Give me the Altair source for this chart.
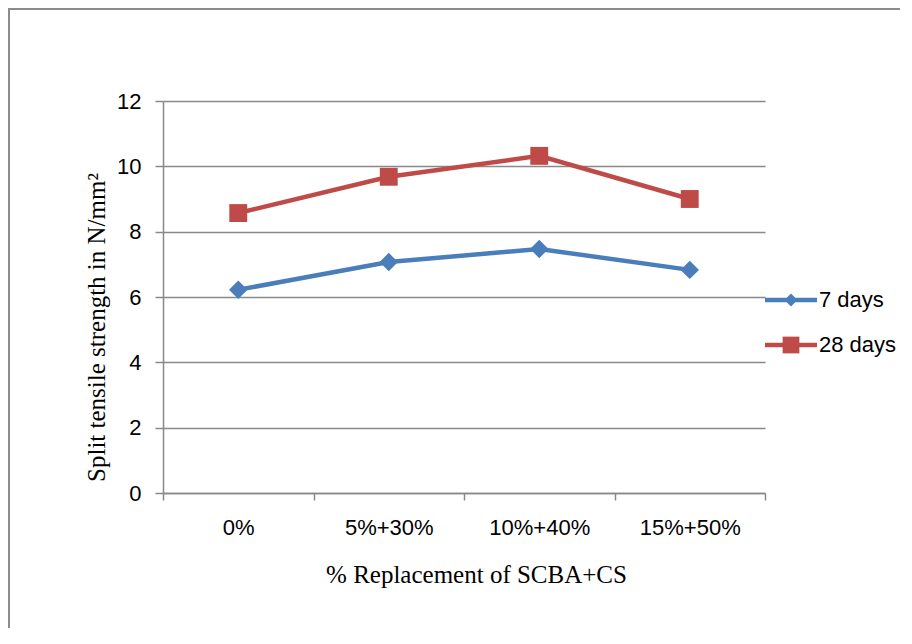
import altair as alt
import pandas as pd

categories = ["0%", "5%+30%", "10%+40%", "15%+50%"]
series = ["7 days", "28 days"]
days7 = [6.22, 7.07, 7.47, 6.83]
days28 = [8.57, 9.68, 10.32, 9.0]
y_ticks = [0, 2, 4, 6, 8, 10, 12]
colors = ["#4A7EBB", "#BE4B48"]
point_shapes = ["diamond", "square"]

rows = []
for s, vals in zip(series, [days7, days28]):
    for c, v in zip(categories, vals):
        rows.append({"cat": c, "series": s, "value": v})
df = pd.DataFrame(rows)
legend_df = pd.DataFrame({"series": series})

W, H = 602, 392
GRAY = "#898989"
SANS = "Liberation Sans"
SERIF = "Liberation Serif"

x_enc = alt.X(
    "cat:N",
    sort=categories,
    scale=alt.Scale(type="band", domain=categories, paddingInner=0, paddingOuter=0),
    axis=alt.Axis(
        title="% Replacement of SCBA+CS",
        tickBand="extent",
        grid=False,
        labelFont=SANS,
        labelFontSize=22,
        labelColor="#000000",
        labelPadding=17,
        labelAngle=0,
        tickSize=7,
        tickColor=GRAY,
        tickWidth=1.5,
        domainColor=GRAY,
        domainWidth=1.5,
        titleFont=SERIF,
        titleFontSize=25,
        titleFontWeight="normal",
        titleColor="#000000",
        titlePadding=24,
        titleX=313,
    ),
)
y_enc = alt.Y(
    "value:Q",
    scale=alt.Scale(domain=[0, 12], nice=False),
    axis=alt.Axis(
        title="Split tensile strength in N/mm²",
        values=y_ticks,
        grid=True,
        gridColor=GRAY,
        gridWidth=1.5,
        labelFont=SANS,
        labelFontSize=22,
        labelColor="#000000",
        labelPadding=14,
        tickSize=8,
        tickColor=GRAY,
        tickWidth=1.5,
        domainColor=GRAY,
        domainWidth=1.5,
        titleFont=SERIF,
        titleFontSize=25,
        titleFontWeight="normal",
        titleColor="#000000",
        titleX=-67,
        titleY=226,
        titleAlign="center",
        titleBaseline="middle",
        titleAngle=270,
    ),
)
color_scale = alt.Scale(domain=series, range=colors)
color_enc = alt.Color("series:N", scale=color_scale, legend=None)
shape_enc = alt.Shape("series:N", scale=alt.Scale(domain=series, range=point_shapes), legend=None)

base = alt.Chart(df)

lines = base.mark_line(strokeWidth=4.5).encode(
    x=x_enc, y=y_enc, color=color_enc, detail="series:N"
)
points = base.mark_point(filled=True, opacity=1).encode(
    x=x_enc,
    y=y_enc,
    color=color_enc,
    shape=shape_enc,
    size=alt.Size("series:N", scale=alt.Scale(domain=series, range=[340, 320]), legend=None),
)

# legend built from the series list
leg_y = alt.Y(
    "series:N",
    sort=series,
    scale=alt.Scale(type="point", domain=series, range=[199, 244], padding=0),
    axis=None,
)
leg_base = alt.Chart(legend_df)
leg_lines = leg_base.mark_rule(strokeWidth=4.5).encode(
    x=alt.value(602), x2=alt.value(654), y=leg_y, color=color_enc
)
leg_points = leg_base.mark_point(filled=True, opacity=1).encode(
    x=alt.value(628),
    y=leg_y,
    color=color_enc,
    shape=shape_enc,
    size=alt.Size("series:N", scale=alt.Scale(domain=series, range=[170, 280]), legend=None),
)
leg_text = leg_base.mark_text(
    align="left", baseline="middle", font=SANS, fontSize=22, color="#000000"
).encode(x=alt.value(656), y=leg_y, text="series:N")

frame = alt.Chart(pd.DataFrame({"f": [0]})).mark_rect(
    fillOpacity=0, stroke="#8c8c8c", strokeWidth=2
).encode(
    x=alt.value(-154), x2=alt.value(900), y=alt.value(-92), y2=alt.value(700)
)

main = alt.layer(lines, points).resolve_scale(size="independent")
legend = alt.layer(leg_lines, leg_points, leg_text).resolve_scale(size="independent")

chart = (
    alt.layer(frame, main, legend)
    .resolve_scale(y="independent", size="independent")
    .properties(
        width=W,
        height=H,
        autosize=alt.AutoSizeParams(type="none"),
        padding={"left": 155, "top": 93, "right": 135, "bottom": 135},
        background="#ffffff",
    )
    .configure_view(stroke=None)
)

chart.save("out.html", embed_options={"renderer": "svg", "actions": False})
